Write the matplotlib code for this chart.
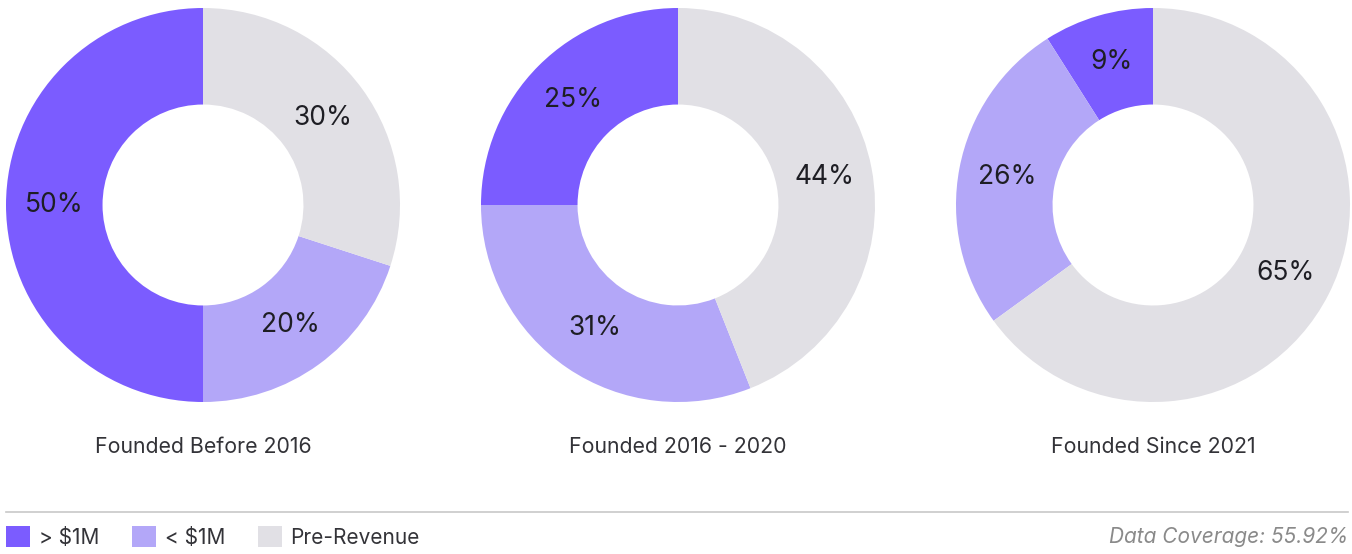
import matplotlib.pyplot as plt
from matplotlib.patches import Patch
from matplotlib.lines import Line2D

plt.rcParams['font.family'] = ['Inter', 'DejaVu Sans']

# data
titles = ['Founded Before 2016', 'Founded 2016 - 2020', 'Founded Since 2021']
categories = ['> $1M', '< $1M', 'Pre-Revenue']
above_1m = [50, 25, 9]
below_1m = [20, 31, 26]
pre_revenue = [30, 44, 65]
coverage = '55.92%'

colors = ['#7b5cff', '#b3a7f8', '#e1e0e5']

W, H = 1352, 554
fig = plt.figure(figsize=(W / 100, H / 100), dpi=100)

centers_x = [203, 678, 1153]
cy = 205
r = 197

for i, title in enumerate(titles):
    cx = centers_x[i]
    ax = fig.add_axes([(cx - r) / W, (H - cy - r) / H, 2 * r / W, 2 * r / H])
    vals = [above_1m[i], below_1m[i], pre_revenue[i]]
    ax.pie(vals, colors=colors, startangle=90, counterclock=True, radius=1,
           wedgeprops=dict(width=0.49, linewidth=0),
           labels=['%d%%' % v for v in vals], labeldistance=0.755,
           textprops=dict(fontsize=19, color='#1e1e24', ha='center', va='center'))
    ax.set_xlim(-1, 1)
    ax.set_ylim(-1, 1)
    ax.set_aspect('equal')
    ax.axis('off')
    fig.text(cx / W, 1 - 447 / H, title, ha='center', va='center',
             fontsize=15.3, color='#333338')

# divider line
fig.add_artist(Line2D([6 / W, 1348 / W], [1 - 512 / H, 1 - 512 / H],
                      color='#c8c8c8', lw=1.2))

handles = [Patch(facecolor=c, edgecolor='none') for c in colors]
fig.legend(handles, categories, loc='center left',
           bbox_to_anchor=(0 / W, 1 - 537 / H), ncol=3, frameon=False,
           fontsize=15, handlelength=1.15, handleheight=1.15,
           handletextpad=0.4, columnspacing=1.6, borderaxespad=0,
           borderpad=0.3, labelcolor='#333338')

fig.text(1348 / W, 1 - 537 / H, 'Data Coverage: ' + coverage, ha='right',
         va='center', fontsize=15, style='italic', color='#8a8a8a')

fig.savefig('out.png', dpi=100)
